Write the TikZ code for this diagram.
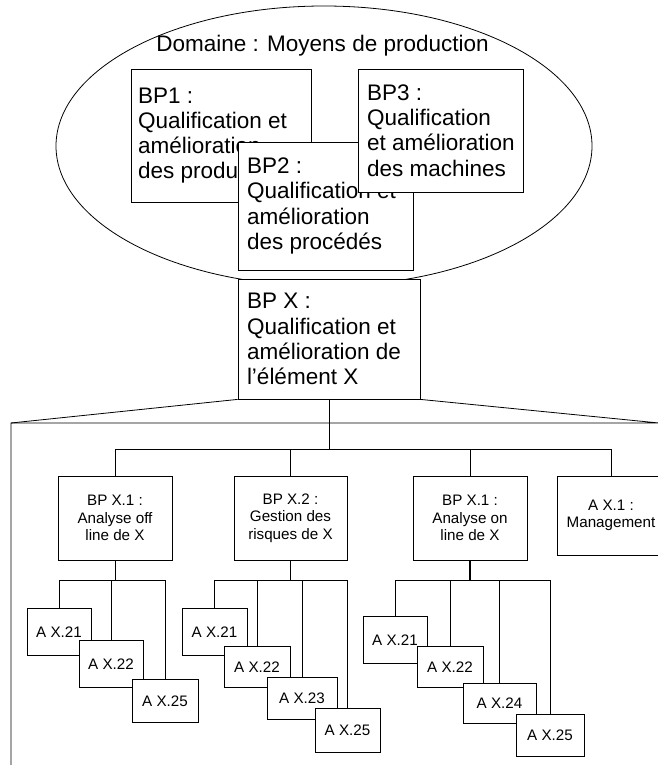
\documentclass[tikz,border=0pt]{standalone}
\usepackage{fontspec}
\setmainfont{Liberation Sans}
\usetikzlibrary{shapes.geometric,calc}
\begin{document}
\begin{tikzpicture}[x=1pt,y=-1pt,
  line width=0.8pt,
  box/.style={draw, fill=white, inner sep=0pt},
  bigtext/.style={anchor=west, inner sep=0pt, font=\fontsize{22.5}{25.2}\selectfont, align=left},
  smallbox/.style={draw, fill=white, inner sep=0pt, align=center, font=\fontsize{15.2}{17.5}\selectfont},
  heavy/.style={line width=1.4pt}]
\useasboundingbox (0,0) rectangle (658,765);
\fill[white] (0,0) rectangle (658,765);

% domain ellipse
\node[box, ellipse, minimum width=536pt, minimum height=280pt] (dom) at (324,146) {};
\node[anchor=base, inner sep=0pt, font=\fontsize{22.5}{25.2}\selectfont] (title) at (322.5,52) {Domaine : Moyens de production};

% BP1, BP2, BP3
\node[box, minimum width=180pt, minimum height=133pt] (bp1) at (221,135.5) {};
\node[bigtext] (bp1t) at ($(bp1.west)+(7,0)$) {BP1 :\\Qualification et\\amélioration\\des produits};
\node[box, minimum width=175pt, minimum height=128pt] (bp2) at (325.5,206) {};
\node[bigtext] (bp2t) at ($(bp2.west)+(9,0)$) {BP2 :\\Qualification et\\amélioration\\des procédés};
\node[box, minimum width=165pt, minimum height=123pt] (bp3) at (440.5,130.5) {};
\node[bigtext] (bp3t) at ($(bp3.west)+(9,0)$) {BP3 :\\Qualification\\et amélioration\\des machines};

% BP X
\node[box, minimum width=182pt, minimum height=120pt] (bpx) at (329,339) {};
\node[bigtext] (bpxt) at ($(bpx.west)+(9,0)$) {BP X :\\Qualification et\\amélioration de\\l’élément X};

% trapezoid frame
\coordinate (tl) at (11,423);
\coordinate (tr) at (659,423);
\coordinate (bl) at (11,766);
\draw (bl) -- (tl) -- (bpx.south west);
\draw (tl) -- (tr) -- (bpx.south east);

% level 2 boxes
\node[smallbox, minimum width=114pt, minimum height=84pt] (b1) at (115,518) {BP X.1 :\\Analyse off\\line de X};
\node[smallbox, minimum width=113pt, minimum height=84pt] (b2) at (290.5,518) {BP X.2 :\\Gestion des\\risques de X};
\node[smallbox, minimum width=114pt, minimum height=84pt] (b3) at (470,518) {BP X.1 :\\Analyse on\\line de X};
\node[smallbox, minimum width=108pt, minimum height=79pt] (b4) at (611,515.5) {A X.1 :\\Management};

\coordinate (bus) at (329,449.5);
\draw (bpx.south) -- (bus);
\draw (b1.north) |- (bus);
\draw (b2.north) |- (bus);
\draw (b3.north) |- (bus);
\draw (b4.north) |- (bus);
\draw[heavy] (b2.north |- bus) -- (b3.north |- bus);

% sub-buses
\coordinate (s1) at ($(b1.south)+(0,20)$);
\coordinate (s2) at ($(b2.south)+(0,20)$);
\coordinate (s3) at ($(b3.south)+(0,20)$);
\draw (b1.south) -- (s1);
\draw[heavy] (b2.south) -- (s2);
\draw[heavy] (b3.south) -- (s3);

% level 3 under b1
\coordinate (c11n) at (59,608);
\coordinate (c12n) at (111,640);
\coordinate (c13n) at (165,679);
\draw (c11n) |- (s1);
\draw (c12n) |- (s1);
\draw (c13n) |- (s1);
\node[smallbox, minimum width=64pt, minimum height=47pt, anchor=north] (c11) at (c11n) {A X.21};
\node[smallbox, minimum width=64pt, minimum height=47pt, anchor=north] (c12) at (c12n) {A X.22};
\node[smallbox, minimum width=66pt, minimum height=43pt, anchor=north] (c13) at (c13n) {A X.25};

% level 3 under b2
\coordinate (c21n) at (214.5,608);
\coordinate (c22n) at (257,646);
\coordinate (c23n) at (302,677);
\coordinate (c24n) at (347.5,708);
\draw (c21n) |- (s2);
\draw (c22n) |- (s2);
\draw (c23n) |- (s2);
\draw (c24n) |- (s2);
\node[smallbox, minimum width=65pt, minimum height=47pt, anchor=north] (c21) at (c21n) {A X.21};
\node[smallbox, minimum width=66pt, minimum height=41pt, anchor=north] (c22) at (c22n) {A X.22};
\node[smallbox, minimum width=70pt, minimum height=42pt, anchor=north] (c23) at (c23n) {A X.23};
\node[smallbox, minimum width=65pt, minimum height=44pt, anchor=north] (c24) at (c24n) {A X.25};

% level 3 under b3
\coordinate (c31n) at (395,616);
\coordinate (c32n) at (450,646);
\coordinate (c33n) at (499.5,683);
\coordinate (c34n) at (550,714);
\draw (c31n) |- (s3);
\draw (c32n) |- (s3);
\draw (c33n) |- (s3);
\draw (c34n) |- (s3);
\node[smallbox, minimum width=64pt, minimum height=47pt, anchor=north] (c31) at (c31n) {A X.21};
\node[smallbox, minimum width=66pt, minimum height=41pt, anchor=north] (c32) at (c32n) {A X.22};
\node[smallbox, minimum width=73pt, minimum height=40pt, anchor=north] (c33) at (c33n) {A X.24};
\node[smallbox, minimum width=68pt, minimum height=42pt, anchor=north] (c34) at (c34n) {A X.25};
\end{tikzpicture}
\end{document}
